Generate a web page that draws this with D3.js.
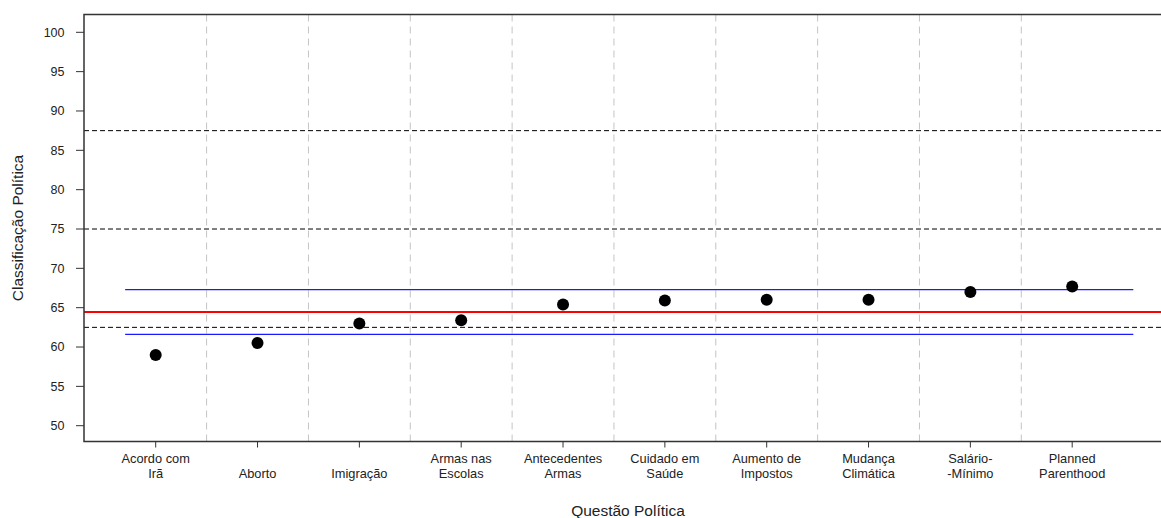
<!DOCTYPE html>
<html>
<head>
<meta charset="utf-8">
<script src="https://cdn.jsdelivr.net/npm/d3@7"></script>
<style>
  html, body { margin: 0; padding: 0; background: #fff; }
  svg { display: block; font-family: "Liberation Sans", Arial, sans-serif; }
</style>
</head>
<body>
<svg id="chart" width="1161" height="518"></svg>
<script>
// Policy issues and their mean political rating
const categories = [
  "Acordo com\nIrã", "Aborto", "Imigração", "Armas nas\nEscolas", "Antecedentes\nArmas",
  "Cuidado em\nSaúde", "Aumento de\nImpostos", "Mudança\nClimática", "Salário-\n-Mínimo", "Planned\nParenthood"
];
const ratings = [59.0, 60.5, 63.0, 63.4, 65.4, 65.9, 66.0, 66.0, 67.0, 67.7];

// Reference levels
const meanLine = [64.45];
const sdBand = [61.6, 67.3];
const sdBandSpan = [0.7, 10.6];
const cutoffs = [62.5, 75, 87.5];
const yTicks = [50, 55, 60, 65, 70, 75, 80, 85, 90, 95, 100];

const svg = d3.select("#chart");

const box = { left: 84, top: 14.5, right: 1172, bottom: 441.5 };

const x = d3.scaleLinear().domain([0.296, 10.98]).range([box.left, box.right]);
const y = d3.scaleLinear().domain([50, 100]).range([425.7, 32.3]);

const idx = categories.map((_, i) => i + 1);

const plot = svg.append("g");

// vertical separators between issues
plot.selectAll("line.sep")
  .data(idx.slice(0, -1).map(i => i + 0.5))
  .join("line")
  .attr("x1", d => x(d)).attr("x2", d => x(d))
  .attr("y1", box.top).attr("y2", box.bottom)
  .attr("stroke", "#c4c4c4").attr("stroke-width", 1)
  .attr("stroke-dasharray", "7,5");

// cutoff lines
plot.selectAll("line.cut")
  .data(cutoffs)
  .join("line")
  .attr("x1", box.left).attr("x2", box.right)
  .attr("y1", d => y(d)).attr("y2", d => y(d))
  .attr("stroke", "#000").attr("stroke-width", 1)
  .attr("stroke-dasharray", "5,3");

// +/- one standard deviation
plot.selectAll("line.sd")
  .data(sdBand)
  .join("line")
  .attr("x1", x(sdBandSpan[0])).attr("x2", x(sdBandSpan[1]))
  .attr("y1", d => y(d)).attr("y2", d => y(d))
  .attr("stroke", "#1a1aff").attr("stroke-width", 1.2);

// overall mean
plot.selectAll("line.mean")
  .data(meanLine)
  .join("line")
  .attr("x1", box.left).attr("x2", box.right)
  .attr("y1", d => y(d)).attr("y2", d => y(d))
  .attr("stroke", "#ff0000").attr("stroke-width", 2);

// points
plot.selectAll("circle")
  .data(ratings)
  .join("circle")
  .attr("cx", (d, i) => x(i + 1))
  .attr("cy", d => y(d))
  .attr("r", 6)
  .attr("fill", "#000");

// frame
svg.append("path")
  .attr("d", `M${box.right},${box.top}H${box.left}V${box.bottom}H${box.right}`)
  .attr("fill", "none").attr("stroke", "#333").attr("stroke-width", 1.5);

// y axis
const yAxis = svg.append("g");
yAxis.selectAll("line")
  .data(yTicks)
  .join("line")
  .attr("x1", box.left - 8).attr("x2", box.left)
  .attr("y1", d => y(d)).attr("y2", d => y(d))
  .attr("stroke", "#333").attr("stroke-width", 1);
yAxis.selectAll("text")
  .data(yTicks)
  .join("text")
  .attr("x", 64.5).attr("y", d => y(d))
  .attr("dy", "0.35em")
  .attr("text-anchor", "end")
  .attr("font-size", 12.5)
  .attr("fill", "#222")
  .text(d => d);

// x axis
const xAxis = svg.append("g");
xAxis.selectAll("line")
  .data(idx)
  .join("line")
  .attr("x1", d => x(d)).attr("x2", d => x(d))
  .attr("y1", box.bottom).attr("y2", box.bottom + 6)
  .attr("stroke", "#333").attr("stroke-width", 1);
xAxis.selectAll("text")
  .data(categories)
  .join("text")
  .attr("text-anchor", "middle")
  .attr("font-size", 12.8)
  .attr("fill", "#222")
  .each(function (d, i) {
    const lines = d.split("\n");
    const t = d3.select(this);
    lines.forEach((ln, k) => {
      const lineNo = 2 - (lines.length - 1 - k);
      t.append("tspan")
        .attr("x", x(i + 1))
        .attr("y", 447 + lineNo * 15.5)
        .text(ln);
    });
  });

// titles
svg.append("text")
  .attr("x", (box.left + box.right) / 2)
  .attr("y", 516)
  .attr("text-anchor", "middle")
  .attr("font-size", 15.5)
  .attr("fill", "#222")
  .text("Questão Política");

svg.append("text")
  .attr("transform", `translate(23,${(box.top + box.bottom) / 2}) rotate(-90)`)
  .attr("text-anchor", "middle")
  .attr("font-size", 15.5)
  .attr("fill", "#222")
  .text("Classificação Política");
</script>
</body>
</html>
